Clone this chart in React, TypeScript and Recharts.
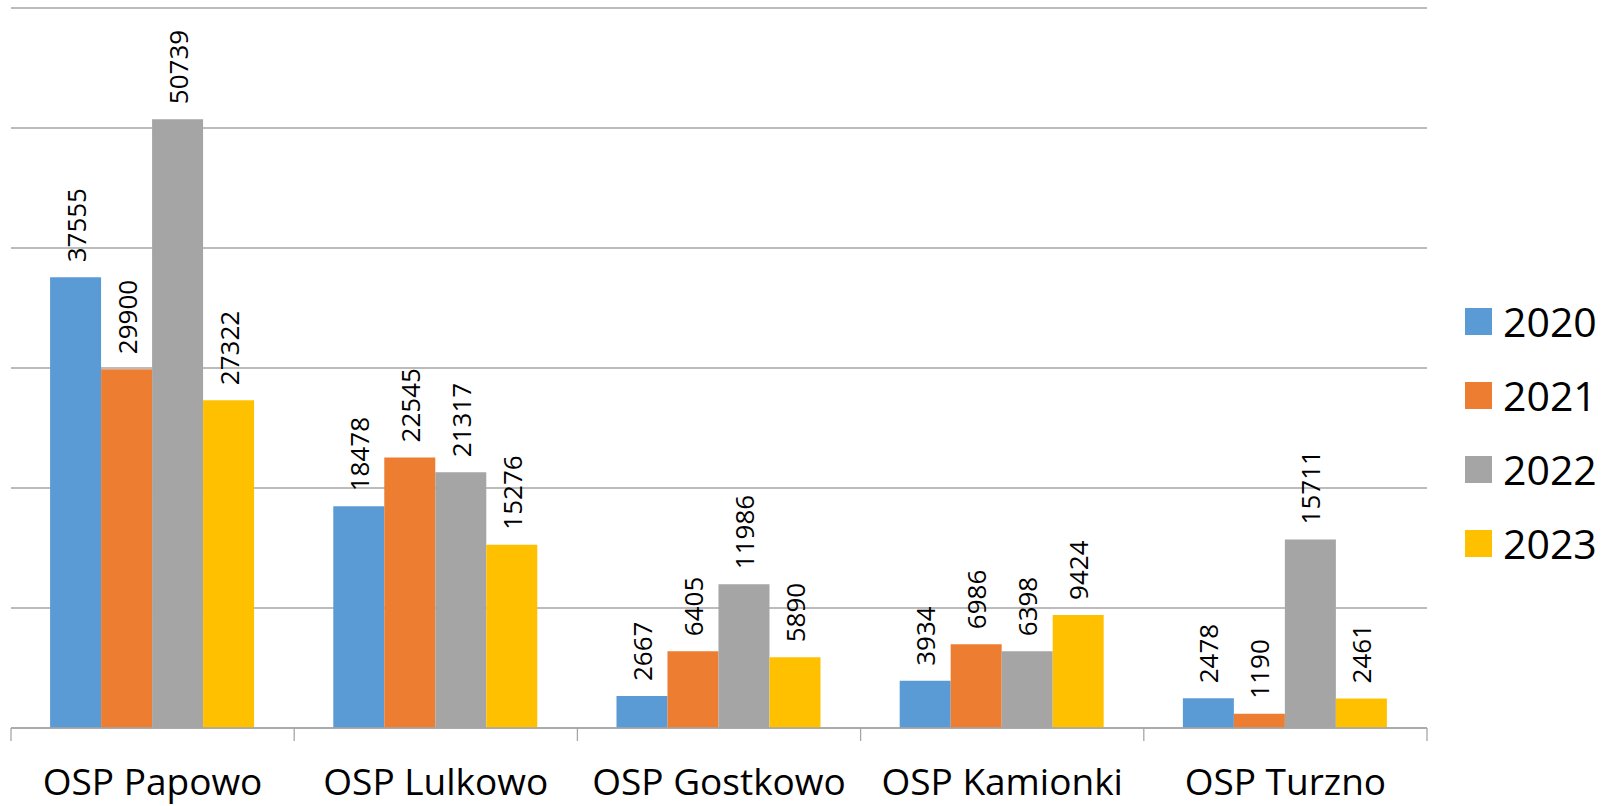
import React from 'react';
import { BarChart, Bar, XAxis, YAxis, CartesianGrid, Legend, LabelList } from 'recharts';

const categories = ['OSP Papowo', 'OSP Lulkowo', 'OSP Gostkowo', 'OSP Kamionki', 'OSP Turzno'];
const series2020 = [37555, 18478, 2667, 3934, 2478];
const series2021 = [29900, 22545, 6405, 6986, 1190];
const series2022 = [50739, 21317, 11986, 6398, 15711];
const series2023 = [27322, 15276, 5890, 9424, 2461];
const yTicks = [0, 10000, 20000, 30000, 40000, 50000, 60000];
const seriesNames = ['2020', '2021', '2022', '2023'];
const colors = ['#5b9bd5', '#ed7d31', '#a5a5a5', '#ffc000'];

const data = categories.map((name, i) => ({
  name,
  '2020': series2020[i],
  '2021': series2021[i],
  '2022': series2022[i],
  '2023': series2023[i],
}));

const FONT = '"Open Sans", sans-serif';
const AXIS_COLOR = '#a6a6a6';

const CategoryTick = (props: any) => {
  const { x, y, payload, index, visibleTicksCount } = props;
  const half = payload && payload.offset ? payload.offset : 283.2 / 2;
  const lines = [
    <line key="l" x1={x - half} x2={x - half} y1={y - 8} y2={y + 5} stroke={AXIS_COLOR} strokeWidth={1.3} />,
  ];
  if (index === (visibleTicksCount ?? categories.length) - 1) {
    lines.push(
      <line key="r" x1={x + half} x2={x + half} y1={y - 8} y2={y + 5} stroke={AXIS_COLOR} strokeWidth={1.3} />
    );
  }
  return (
    <g>
      {lines}
      <text x={x} y={y + 59} textAnchor="middle" fontFamily={FONT} fontSize={37} fill="#000">
        {payload.value}
      </text>
    </g>
  );
};

const RotLabel = (props: any) => {
  const { x, y, width, value } = props;
  const cx = Number(x) + Number(width) / 2;
  const cy = Number(y) - 15;
  return (
    <text
      transform={`translate(${cx}, ${cy}) rotate(-90)`}
      textAnchor="start"
      dominantBaseline="central"
      fontFamily={FONT}
      fontSize={26}
      fill="#000"
    >
      {value}
    </text>
  );
};

const LegendContent = () => (
  <div style={{ fontFamily: FONT }}>
    {seriesNames.map((n, i) => (
      <div key={n} style={{ height: 74, display: 'flex', alignItems: 'center' }}>
        <div style={{ width: 27, height: 27, background: colors[i], marginRight: 11 }} />
        <span style={{ fontSize: 41, color: '#000', lineHeight: '74px' }}>{n}</span>
      </div>
    ))}
  </div>
);

export default function App() {
  return (
    <div style={{ position: 'absolute', left: 0, top: 0, width: 1616, height: 806, background: '#fff' }}>
      <BarChart
        width={1616}
        height={806}
        data={data}
        margin={{ top: 8, left: 11, right: 189, bottom: 8 }}
        barCategoryGap="13.8%"
        barGap={0}
      >
        <CartesianGrid vertical={false} stroke={AXIS_COLOR} strokeWidth={1.3} />
        <YAxis hide domain={[0, 60000]} ticks={yTicks} />
        <XAxis
          dataKey="name"
          height={70}
          axisLine={{ stroke: AXIS_COLOR, strokeWidth: 1.3 }}
          tickLine={false}
          tick={<CategoryTick />}
          interval={0}
        />
        <Legend
          layout="horizontal"
          verticalAlign="middle"
          align="center"
          content={<LegendContent />}
          wrapperStyle={{ left: 1465, top: 284, width: 'auto', height: 'auto' }}
        />
        {seriesNames.map((n, i) => (
          <Bar key={n} dataKey={n} fill={colors[i]} isAnimationActive={false}>
            <LabelList dataKey={n} content={<RotLabel />} />
          </Bar>
        ))}
      </BarChart>
    </div>
  );
}
